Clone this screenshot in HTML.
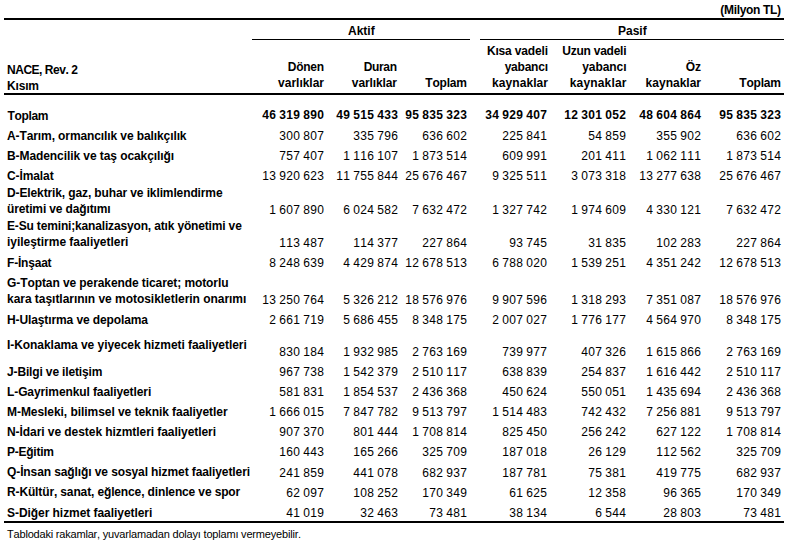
<!DOCTYPE html>
<html><head><meta charset="utf-8">
<style>
html,body{margin:0;padding:0;background:#fff;}
body{width:794px;height:549px;position:relative;overflow:hidden;font-family:"Liberation Sans",sans-serif;font-size:12px;color:#000;font-kerning:none;font-feature-settings:"kern" 0,"liga" 0;}
.t{position:absolute;white-space:nowrap;line-height:14px;height:14px;}
.b{font-weight:bold;}
.r{text-align:right;}
.ln{position:absolute;background:#000;}
</style></head><body>

<div class="ln" style="left:4px;top:18px;width:780px;height:2px"></div>
<div class="ln" style="left:252px;top:39px;width:218px;height:1px"></div>
<div class="ln" style="left:480px;top:39px;width:304px;height:1px"></div>
<div class="ln" style="left:4px;top:93px;width:780px;height:2px"></div>
<div class="ln" style="left:4px;top:521px;width:780px;height:2px"></div>
<div class="t b r" style="top:3px;right:13px;letter-spacing:-0.330px;margin-right:0.330px;">(Milyon TL)</div>
<div class="t b" style="top:24px;left:348px;">Aktif</div>
<div class="t b" style="top:24px;left:618px;">Pasif</div>
<div class="t b" style="top:63px;left:7px;letter-spacing:-0.473px;">NACE, Rev. 2</div>
<div class="t b" style="top:79px;left:7px;letter-spacing:-0.175px;">Kısım</div>
<div class="t b r" style="top:60px;right:470px;letter-spacing:-0.275px;margin-right:0.275px;">Dönen</div>
<div class="t b r" style="top:76px;right:470px;letter-spacing:-0.013px;margin-right:0.013px;">varlıklar</div>
<div class="t b r" style="top:60px;right:397px;letter-spacing:-0.325px;margin-right:0.325px;">Duran</div>
<div class="t b r" style="top:76px;right:397px;letter-spacing:-0.112px;margin-right:0.112px;">varlıklar</div>
<div class="t b r" style="top:76px;right:327px;letter-spacing:-0.200px;margin-right:0.200px;">Toplam</div>
<div class="t b r" style="top:44px;right:246px;letter-spacing:-0.160px;margin-right:0.160px;">Kısa vadeli</div>
<div class="t b r" style="top:60px;right:246px;letter-spacing:-0.217px;margin-right:0.217px;">yabancı</div>
<div class="t b r" style="top:76px;right:246px;letter-spacing:0.062px;margin-right:-0.062px;">kaynaklar</div>
<div class="t b r" style="top:44px;right:167.5px;letter-spacing:-0.250px;margin-right:0.250px;">Uzun vadeli</div>
<div class="t b r" style="top:60px;right:167.5px;letter-spacing:-0.067px;margin-right:0.067px;">yabancı</div>
<div class="t b r" style="top:76px;right:167.5px;letter-spacing:0.175px;margin-right:-0.175px;">kaynaklar</div>
<div class="t b r" style="top:60px;right:93px;">Öz</div>
<div class="t b r" style="top:76px;right:93px;">kaynaklar</div>
<div class="t b r" style="top:76px;right:13px;letter-spacing:-0.200px;margin-right:0.200px;">Toplam</div>
<div class="t b" style="top:109px;left:7.6px;letter-spacing:-0.360px;">Toplam</div>
<div class="t b r" style="top:108px;right:470px;word-spacing:-0.667px;letter-spacing:0.333px;margin-right:-0.333px;">46 319 890</div>
<div class="t b r" style="top:108px;right:396px;word-spacing:-0.667px;letter-spacing:0.333px;margin-right:-0.333px;">49 515 433</div>
<div class="t b r" style="top:108px;right:327px;word-spacing:-0.667px;letter-spacing:0.333px;margin-right:-0.333px;">95 835 323</div>
<div class="t b r" style="top:108px;right:247px;word-spacing:-0.667px;letter-spacing:0.333px;margin-right:-0.333px;">34 929 407</div>
<div class="t b r" style="top:108px;right:168px;word-spacing:-0.667px;letter-spacing:0.333px;margin-right:-0.333px;">12 301 052</div>
<div class="t b r" style="top:108px;right:93px;word-spacing:-0.667px;letter-spacing:0.333px;margin-right:-0.333px;">48 604 864</div>
<div class="t b r" style="top:108px;right:13px;word-spacing:-0.667px;letter-spacing:0.333px;margin-right:-0.333px;">95 835 323</div>
<div class="t b" style="top:129px;left:7px;letter-spacing:-0.100px;">A-Tarım, ormancılık ve balıkçılık</div>
<div class="t r" style="top:129px;right:470px;word-spacing:-0.667px;letter-spacing:0.333px;margin-right:-0.333px;">300 807</div>
<div class="t r" style="top:129px;right:396px;word-spacing:-0.667px;letter-spacing:0.333px;margin-right:-0.333px;">335 796</div>
<div class="t r" style="top:129px;right:327px;word-spacing:-0.667px;letter-spacing:0.333px;margin-right:-0.333px;">636 602</div>
<div class="t r" style="top:129px;right:247px;word-spacing:-0.667px;letter-spacing:0.333px;margin-right:-0.333px;">225 841</div>
<div class="t r" style="top:129px;right:168px;word-spacing:-0.667px;letter-spacing:0.333px;margin-right:-0.333px;">54 859</div>
<div class="t r" style="top:129px;right:93px;word-spacing:-0.667px;letter-spacing:0.333px;margin-right:-0.333px;">355 902</div>
<div class="t r" style="top:129px;right:13px;word-spacing:-0.667px;letter-spacing:0.333px;margin-right:-0.333px;">636 602</div>
<div class="t b" style="top:149px;left:7px;letter-spacing:-0.079px;">B-Madencilik ve taş ocakçılığı</div>
<div class="t r" style="top:149px;right:470px;word-spacing:-0.667px;letter-spacing:0.333px;margin-right:-0.333px;">757 407</div>
<div class="t r" style="top:149px;right:396px;word-spacing:-0.667px;letter-spacing:0.333px;margin-right:-0.333px;">1 116 107</div>
<div class="t r" style="top:149px;right:327px;word-spacing:-0.667px;letter-spacing:0.333px;margin-right:-0.333px;">1 873 514</div>
<div class="t r" style="top:149px;right:247px;word-spacing:-0.667px;letter-spacing:0.333px;margin-right:-0.333px;">609 991</div>
<div class="t r" style="top:149px;right:168px;word-spacing:-0.667px;letter-spacing:0.333px;margin-right:-0.333px;">201 411</div>
<div class="t r" style="top:149px;right:93px;word-spacing:-0.667px;letter-spacing:0.333px;margin-right:-0.333px;">1 062 111</div>
<div class="t r" style="top:149px;right:13px;word-spacing:-0.667px;letter-spacing:0.333px;margin-right:-0.333px;">1 873 514</div>
<div class="t b" style="top:169px;left:7px;letter-spacing:-0.100px;">C-İmalat</div>
<div class="t r" style="top:169px;right:470px;word-spacing:-0.667px;letter-spacing:0.333px;margin-right:-0.333px;">13 920 623</div>
<div class="t r" style="top:169px;right:396px;word-spacing:-0.667px;letter-spacing:0.333px;margin-right:-0.333px;">11 755 844</div>
<div class="t r" style="top:169px;right:327px;word-spacing:-0.667px;letter-spacing:0.333px;margin-right:-0.333px;">25 676 467</div>
<div class="t r" style="top:169px;right:247px;word-spacing:-0.667px;letter-spacing:0.333px;margin-right:-0.333px;">9 325 511</div>
<div class="t r" style="top:169px;right:168px;word-spacing:-0.667px;letter-spacing:0.333px;margin-right:-0.333px;">3 073 318</div>
<div class="t r" style="top:169px;right:93px;word-spacing:-0.667px;letter-spacing:0.333px;margin-right:-0.333px;">13 277 638</div>
<div class="t r" style="top:169px;right:13px;word-spacing:-0.667px;letter-spacing:0.333px;margin-right:-0.333px;">25 676 467</div>
<div class="t b" style="top:186px;left:7px;letter-spacing:-0.118px;">D-Elektrik, gaz, buhar ve iklimlendirme</div>
<div class="t b" style="top:202px;left:7px;letter-spacing:-0.133px;">üretimi ve dağıtımı</div>
<div class="t r" style="top:203px;right:470px;word-spacing:-0.667px;letter-spacing:0.333px;margin-right:-0.333px;">1 607 890</div>
<div class="t r" style="top:203px;right:396px;word-spacing:-0.667px;letter-spacing:0.333px;margin-right:-0.333px;">6 024 582</div>
<div class="t r" style="top:203px;right:327px;word-spacing:-0.667px;letter-spacing:0.333px;margin-right:-0.333px;">7 632 472</div>
<div class="t r" style="top:203px;right:247px;word-spacing:-0.667px;letter-spacing:0.333px;margin-right:-0.333px;">1 327 742</div>
<div class="t r" style="top:203px;right:168px;word-spacing:-0.667px;letter-spacing:0.333px;margin-right:-0.333px;">1 974 609</div>
<div class="t r" style="top:203px;right:93px;word-spacing:-0.667px;letter-spacing:0.333px;margin-right:-0.333px;">4 330 121</div>
<div class="t r" style="top:203px;right:13px;word-spacing:-0.667px;letter-spacing:0.333px;margin-right:-0.333px;">7 632 472</div>
<div class="t b" style="top:219px;left:7px;letter-spacing:-0.161px;">E-Su temini;kanalizasyon, atık yönetimi ve</div>
<div class="t b" style="top:235px;left:7px;letter-spacing:-0.030px;">iyileştirme faaliyetleri</div>
<div class="t r" style="top:236px;right:470px;word-spacing:-0.667px;letter-spacing:0.333px;margin-right:-0.333px;">113 487</div>
<div class="t r" style="top:236px;right:396px;word-spacing:-0.667px;letter-spacing:0.333px;margin-right:-0.333px;">114 377</div>
<div class="t r" style="top:236px;right:327px;word-spacing:-0.667px;letter-spacing:0.333px;margin-right:-0.333px;">227 864</div>
<div class="t r" style="top:236px;right:247px;word-spacing:-0.667px;letter-spacing:0.333px;margin-right:-0.333px;">93 745</div>
<div class="t r" style="top:236px;right:168px;word-spacing:-0.667px;letter-spacing:0.333px;margin-right:-0.333px;">31 835</div>
<div class="t r" style="top:236px;right:93px;word-spacing:-0.667px;letter-spacing:0.333px;margin-right:-0.333px;">102 283</div>
<div class="t r" style="top:236px;right:13px;word-spacing:-0.667px;letter-spacing:0.333px;margin-right:-0.333px;">227 864</div>
<div class="t b" style="top:256px;left:7px;letter-spacing:-0.200px;">F-İnşaat</div>
<div class="t r" style="top:256px;right:470px;word-spacing:-0.667px;letter-spacing:0.333px;margin-right:-0.333px;">8 248 639</div>
<div class="t r" style="top:256px;right:396px;word-spacing:-0.667px;letter-spacing:0.333px;margin-right:-0.333px;">4 429 874</div>
<div class="t r" style="top:256px;right:327px;word-spacing:-0.667px;letter-spacing:0.333px;margin-right:-0.333px;">12 678 513</div>
<div class="t r" style="top:256px;right:247px;word-spacing:-0.667px;letter-spacing:0.333px;margin-right:-0.333px;">6 788 020</div>
<div class="t r" style="top:256px;right:168px;word-spacing:-0.667px;letter-spacing:0.333px;margin-right:-0.333px;">1 539 251</div>
<div class="t r" style="top:256px;right:93px;word-spacing:-0.667px;letter-spacing:0.333px;margin-right:-0.333px;">4 351 242</div>
<div class="t r" style="top:256px;right:13px;word-spacing:-0.667px;letter-spacing:0.333px;margin-right:-0.333px;">12 678 513</div>
<div class="t b" style="top:276px;left:7px;letter-spacing:-0.086px;">G-Toptan ve perakende ticaret; motorlu</div>
<div class="t b" style="top:292px;left:7px;letter-spacing:-0.033px;">kara taşıtlarının ve motosikletlerin onarımı</div>
<div class="t r" style="top:293px;right:470px;word-spacing:-0.667px;letter-spacing:0.333px;margin-right:-0.333px;">13 250 764</div>
<div class="t r" style="top:293px;right:396px;word-spacing:-0.667px;letter-spacing:0.333px;margin-right:-0.333px;">5 326 212</div>
<div class="t r" style="top:293px;right:327px;word-spacing:-0.667px;letter-spacing:0.333px;margin-right:-0.333px;">18 576 976</div>
<div class="t r" style="top:293px;right:247px;word-spacing:-0.667px;letter-spacing:0.333px;margin-right:-0.333px;">9 907 596</div>
<div class="t r" style="top:293px;right:168px;word-spacing:-0.667px;letter-spacing:0.333px;margin-right:-0.333px;">1 318 293</div>
<div class="t r" style="top:293px;right:93px;word-spacing:-0.667px;letter-spacing:0.333px;margin-right:-0.333px;">7 351 087</div>
<div class="t r" style="top:293px;right:13px;word-spacing:-0.667px;letter-spacing:0.333px;margin-right:-0.333px;">18 576 976</div>
<div class="t b" style="top:313px;left:7px;letter-spacing:-0.109px;">H-Ulaştırma ve depolama</div>
<div class="t r" style="top:313px;right:470px;word-spacing:-0.667px;letter-spacing:0.333px;margin-right:-0.333px;">2 661 719</div>
<div class="t r" style="top:313px;right:396px;word-spacing:-0.667px;letter-spacing:0.333px;margin-right:-0.333px;">5 686 455</div>
<div class="t r" style="top:313px;right:327px;word-spacing:-0.667px;letter-spacing:0.333px;margin-right:-0.333px;">8 348 175</div>
<div class="t r" style="top:313px;right:247px;word-spacing:-0.667px;letter-spacing:0.333px;margin-right:-0.333px;">2 007 027</div>
<div class="t r" style="top:313px;right:168px;word-spacing:-0.667px;letter-spacing:0.333px;margin-right:-0.333px;">1 776 177</div>
<div class="t r" style="top:313px;right:93px;word-spacing:-0.667px;letter-spacing:0.333px;margin-right:-0.333px;">4 564 970</div>
<div class="t r" style="top:313px;right:13px;word-spacing:-0.667px;letter-spacing:0.333px;margin-right:-0.333px;">8 348 175</div>
<div class="t b" style="top:338px;left:7px;letter-spacing:-0.057px;">I-Konaklama ve yiyecek hizmeti faaliyetleri</div>
<div class="t r" style="top:345px;right:470px;word-spacing:-0.667px;letter-spacing:0.333px;margin-right:-0.333px;">830 184</div>
<div class="t r" style="top:345px;right:396px;word-spacing:-0.667px;letter-spacing:0.333px;margin-right:-0.333px;">1 932 985</div>
<div class="t r" style="top:345px;right:327px;word-spacing:-0.667px;letter-spacing:0.333px;margin-right:-0.333px;">2 763 169</div>
<div class="t r" style="top:345px;right:247px;word-spacing:-0.667px;letter-spacing:0.333px;margin-right:-0.333px;">739 977</div>
<div class="t r" style="top:345px;right:168px;word-spacing:-0.667px;letter-spacing:0.333px;margin-right:-0.333px;">407 326</div>
<div class="t r" style="top:345px;right:93px;word-spacing:-0.667px;letter-spacing:0.333px;margin-right:-0.333px;">1 615 866</div>
<div class="t r" style="top:345px;right:13px;word-spacing:-0.667px;letter-spacing:0.333px;margin-right:-0.333px;">2 763 169</div>
<div class="t b" style="top:365px;left:7px;letter-spacing:-0.144px;">J-Bilgi ve iletişim</div>
<div class="t r" style="top:365px;right:470px;word-spacing:-0.667px;letter-spacing:0.333px;margin-right:-0.333px;">967 738</div>
<div class="t r" style="top:365px;right:396px;word-spacing:-0.667px;letter-spacing:0.333px;margin-right:-0.333px;">1 542 379</div>
<div class="t r" style="top:365px;right:327px;word-spacing:-0.667px;letter-spacing:0.333px;margin-right:-0.333px;">2 510 117</div>
<div class="t r" style="top:365px;right:247px;word-spacing:-0.667px;letter-spacing:0.333px;margin-right:-0.333px;">638 839</div>
<div class="t r" style="top:365px;right:168px;word-spacing:-0.667px;letter-spacing:0.333px;margin-right:-0.333px;">254 837</div>
<div class="t r" style="top:365px;right:93px;word-spacing:-0.667px;letter-spacing:0.333px;margin-right:-0.333px;">1 616 442</div>
<div class="t r" style="top:365px;right:13px;word-spacing:-0.667px;letter-spacing:0.333px;margin-right:-0.333px;">2 510 117</div>
<div class="t b" style="top:385px;left:7px;letter-spacing:-0.100px;">L-Gayrimenkul faaliyetleri</div>
<div class="t r" style="top:385px;right:470px;word-spacing:-0.667px;letter-spacing:0.333px;margin-right:-0.333px;">581 831</div>
<div class="t r" style="top:385px;right:396px;word-spacing:-0.667px;letter-spacing:0.333px;margin-right:-0.333px;">1 854 537</div>
<div class="t r" style="top:385px;right:327px;word-spacing:-0.667px;letter-spacing:0.333px;margin-right:-0.333px;">2 436 368</div>
<div class="t r" style="top:385px;right:247px;word-spacing:-0.667px;letter-spacing:0.333px;margin-right:-0.333px;">450 624</div>
<div class="t r" style="top:385px;right:168px;word-spacing:-0.667px;letter-spacing:0.333px;margin-right:-0.333px;">550 051</div>
<div class="t r" style="top:385px;right:93px;word-spacing:-0.667px;letter-spacing:0.333px;margin-right:-0.333px;">1 435 694</div>
<div class="t r" style="top:385px;right:13px;word-spacing:-0.667px;letter-spacing:0.333px;margin-right:-0.333px;">2 436 368</div>
<div class="t b" style="top:405px;left:7px;letter-spacing:-0.055px;">M-Mesleki, bilimsel ve teknik faaliyetler</div>
<div class="t r" style="top:405px;right:470px;word-spacing:-0.667px;letter-spacing:0.333px;margin-right:-0.333px;">1 666 015</div>
<div class="t r" style="top:405px;right:396px;word-spacing:-0.667px;letter-spacing:0.333px;margin-right:-0.333px;">7 847 782</div>
<div class="t r" style="top:405px;right:327px;word-spacing:-0.667px;letter-spacing:0.333px;margin-right:-0.333px;">9 513 797</div>
<div class="t r" style="top:405px;right:247px;word-spacing:-0.667px;letter-spacing:0.333px;margin-right:-0.333px;">1 514 483</div>
<div class="t r" style="top:405px;right:168px;word-spacing:-0.667px;letter-spacing:0.333px;margin-right:-0.333px;">742 432</div>
<div class="t r" style="top:405px;right:93px;word-spacing:-0.667px;letter-spacing:0.333px;margin-right:-0.333px;">7 256 881</div>
<div class="t r" style="top:405px;right:13px;word-spacing:-0.667px;letter-spacing:0.333px;margin-right:-0.333px;">9 513 797</div>
<div class="t b" style="top:425px;left:7px;letter-spacing:-0.062px;">N-İdari ve destek hizmtleri faaliyetleri</div>
<div class="t r" style="top:425px;right:470px;word-spacing:-0.667px;letter-spacing:0.333px;margin-right:-0.333px;">907 370</div>
<div class="t r" style="top:425px;right:396px;word-spacing:-0.667px;letter-spacing:0.333px;margin-right:-0.333px;">801 444</div>
<div class="t r" style="top:425px;right:327px;word-spacing:-0.667px;letter-spacing:0.333px;margin-right:-0.333px;">1 708 814</div>
<div class="t r" style="top:425px;right:247px;word-spacing:-0.667px;letter-spacing:0.333px;margin-right:-0.333px;">825 450</div>
<div class="t r" style="top:425px;right:168px;word-spacing:-0.667px;letter-spacing:0.333px;margin-right:-0.333px;">256 242</div>
<div class="t r" style="top:425px;right:93px;word-spacing:-0.667px;letter-spacing:0.333px;margin-right:-0.333px;">627 122</div>
<div class="t r" style="top:425px;right:13px;word-spacing:-0.667px;letter-spacing:0.333px;margin-right:-0.333px;">1 708 814</div>
<div class="t b" style="top:445px;left:7px;letter-spacing:-0.243px;">P-Eğitim</div>
<div class="t r" style="top:445px;right:470px;word-spacing:-0.667px;letter-spacing:0.333px;margin-right:-0.333px;">160 443</div>
<div class="t r" style="top:445px;right:396px;word-spacing:-0.667px;letter-spacing:0.333px;margin-right:-0.333px;">165 266</div>
<div class="t r" style="top:445px;right:327px;word-spacing:-0.667px;letter-spacing:0.333px;margin-right:-0.333px;">325 709</div>
<div class="t r" style="top:445px;right:247px;word-spacing:-0.667px;letter-spacing:0.333px;margin-right:-0.333px;">187 018</div>
<div class="t r" style="top:445px;right:168px;word-spacing:-0.667px;letter-spacing:0.333px;margin-right:-0.333px;">26 129</div>
<div class="t r" style="top:445px;right:93px;word-spacing:-0.667px;letter-spacing:0.333px;margin-right:-0.333px;">112 562</div>
<div class="t r" style="top:445px;right:13px;word-spacing:-0.667px;letter-spacing:0.333px;margin-right:-0.333px;">325 709</div>
<div class="t b" style="top:465px;left:7px;letter-spacing:-0.100px;">Q-İnsan sağlığı ve sosyal hizmet faaliyetleri</div>
<div class="t r" style="top:466px;right:470px;word-spacing:-0.667px;letter-spacing:0.333px;margin-right:-0.333px;">241 859</div>
<div class="t r" style="top:466px;right:396px;word-spacing:-0.667px;letter-spacing:0.333px;margin-right:-0.333px;">441 078</div>
<div class="t r" style="top:466px;right:327px;word-spacing:-0.667px;letter-spacing:0.333px;margin-right:-0.333px;">682 937</div>
<div class="t r" style="top:466px;right:247px;word-spacing:-0.667px;letter-spacing:0.333px;margin-right:-0.333px;">187 781</div>
<div class="t r" style="top:466px;right:168px;word-spacing:-0.667px;letter-spacing:0.333px;margin-right:-0.333px;">75 381</div>
<div class="t r" style="top:466px;right:93px;word-spacing:-0.667px;letter-spacing:0.333px;margin-right:-0.333px;">419 775</div>
<div class="t r" style="top:466px;right:13px;word-spacing:-0.667px;letter-spacing:0.333px;margin-right:-0.333px;">682 937</div>
<div class="t b" style="top:485px;left:7px;letter-spacing:-0.134px;">R-Kültür, sanat, eğlence, dinlence ve spor</div>
<div class="t r" style="top:486px;right:470px;word-spacing:-0.667px;letter-spacing:0.333px;margin-right:-0.333px;">62 097</div>
<div class="t r" style="top:486px;right:396px;word-spacing:-0.667px;letter-spacing:0.333px;margin-right:-0.333px;">108 252</div>
<div class="t r" style="top:486px;right:327px;word-spacing:-0.667px;letter-spacing:0.333px;margin-right:-0.333px;">170 349</div>
<div class="t r" style="top:486px;right:247px;word-spacing:-0.667px;letter-spacing:0.333px;margin-right:-0.333px;">61 625</div>
<div class="t r" style="top:486px;right:168px;word-spacing:-0.667px;letter-spacing:0.333px;margin-right:-0.333px;">12 358</div>
<div class="t r" style="top:486px;right:93px;word-spacing:-0.667px;letter-spacing:0.333px;margin-right:-0.333px;">96 365</div>
<div class="t r" style="top:486px;right:13px;word-spacing:-0.667px;letter-spacing:0.333px;margin-right:-0.333px;">170 349</div>
<div class="t b" style="top:506px;left:7px;letter-spacing:-0.054px;">S-Diğer hizmet faaliyetleri</div>
<div class="t r" style="top:506px;right:470px;word-spacing:-0.667px;letter-spacing:0.333px;margin-right:-0.333px;">41 019</div>
<div class="t r" style="top:506px;right:396px;word-spacing:-0.667px;letter-spacing:0.333px;margin-right:-0.333px;">32 463</div>
<div class="t r" style="top:506px;right:327px;word-spacing:-0.667px;letter-spacing:0.333px;margin-right:-0.333px;">73 481</div>
<div class="t r" style="top:506px;right:247px;word-spacing:-0.667px;letter-spacing:0.333px;margin-right:-0.333px;">38 134</div>
<div class="t r" style="top:506px;right:168px;word-spacing:-0.667px;letter-spacing:0.333px;margin-right:-0.333px;">6 544</div>
<div class="t r" style="top:506px;right:93px;word-spacing:-0.667px;letter-spacing:0.333px;margin-right:-0.333px;">28 803</div>
<div class="t r" style="top:506px;right:13px;word-spacing:-0.667px;letter-spacing:0.333px;margin-right:-0.333px;">73 481</div>
<div class="t" style="top:527px;left:7px;font-size:11px;letter-spacing:-0.192px;">Tablodaki rakamlar, yuvarlamadan dolayı toplamı vermeyebilir.</div>
</body></html>
